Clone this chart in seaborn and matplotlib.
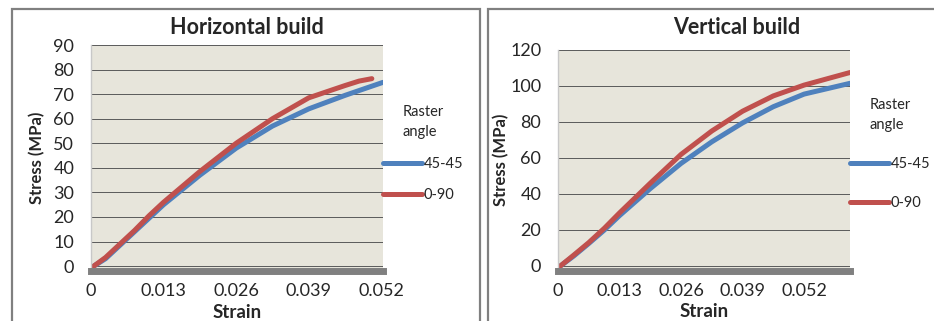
import pandas as pd
import matplotlib.pyplot as plt
import matplotlib.patches as mpatches
import seaborn as sns

# Horizontal build
h_strain_4545 = [0.0005, 0.0026, 0.0052, 0.0078, 0.0104, 0.013, 0.0195, 0.026, 0.0325, 0.039, 0.0455, 0.0523]
h_stress_4545 = [0, 3, 8.5, 14, 19.5, 25, 37, 48, 57, 64, 69.5, 74.8]
h_strain_090 = [0.0005, 0.0026, 0.0052, 0.0078, 0.0104, 0.013, 0.0195, 0.026, 0.0325, 0.039, 0.0455, 0.048, 0.0503]
h_stress_090 = [0, 3.5, 9, 14.5, 20.5, 26, 38.5, 50, 60, 68.5, 73.5, 75.3, 76.3]

# Vertical build
v_strain_4545 = [0.0005, 0.0033, 0.0065, 0.0098, 0.013, 0.0195, 0.026, 0.0325, 0.039, 0.0455, 0.052, 0.0617]
v_stress_4545 = [0, 5.5, 12.5, 20, 28, 43, 57, 69, 79.5, 88.5, 95.5, 101.5]
v_strain_090 = [0.0005, 0.0033, 0.0065, 0.0098, 0.013, 0.0195, 0.026, 0.0325, 0.039, 0.0455, 0.052, 0.0617]
v_stress_090 = [0, 6, 13, 21, 29.5, 46, 62, 75, 86, 94.5, 100.5, 107.5]

x_ticks = [0, 0.013, 0.026, 0.039, 0.052]
x_tick_labels = ["0", "0.013", "0.026", "0.039", "0.052"]

series_names = ["45-45", "0-90"]
colors = {"45-45": "#4F81BD", "0-90": "#C0504D"}


def make_df(s1, y1, s2, y2):
    a = pd.DataFrame({"Strain": s1, "Stress": y1, "Raster angle": "45-45"})
    b = pd.DataFrame({"Strain": s2, "Stress": y2, "Raster angle": "0-90"})
    return pd.concat([a, b], ignore_index=True)


df_h = make_df(h_strain_4545, h_stress_4545, h_strain_090, h_stress_090)
df_v = make_df(v_strain_4545, v_stress_4545, v_strain_090, v_stress_090)

sns.set_style("white")
plt.rcParams['font.family'] = ['Lato', 'DejaVu Sans']

fig = plt.figure(figsize=(9.34, 3.21), dpi=100)
W, H = 934, 321

# panel frames
for x0, x1 in [(12, 480), (488, 940)]:
    rect = mpatches.Rectangle((x0 / W, 0 - 0.05), (x1 - x0) / W, 1 - 8.5 / H + 0.05,
                              transform=fig.transFigure, fill=False,
                              edgecolor="#808080", linewidth=1.6, clip_on=False)
    fig.add_artist(rect)

ax1 = fig.add_axes([91 / W, 1 - 271 / H, 292 / W, 226 / H])
ax2 = fig.add_axes([558 / W, 1 - 270.5 / H, 292 / W, 220.5 / H])

configs = [
    (ax1, df_h, "Horizontal build", (-2, 90), list(range(0, 91, 10)), 0.0523, 247, (1.0, 0.52), 1.2, 6),
    (ax2, df_v, "Vertical build", (-2.5, 120), list(range(0, 121, 20)), 0.0617, 737, (1.0, 0.53), 1.7, 1),
]

for ax, df, title, ylim, yticks, xmax, title_x, anchor, lspace, ypad in configs:
    ax.set_facecolor("#E7E5DB")
    sns.lineplot(data=df, x="Strain", y="Stress", hue="Raster angle",
                 hue_order=series_names, palette=colors, estimator=None,
                 sort=False, linewidth=3.6, ax=ax, legend=False)
    ax.set_xlim(0, xmax)
    ax.set_ylim(*ylim)
    ax.set_yticks(yticks)
    ax.set_xticks(x_ticks)
    ax.set_xticklabels(x_tick_labels)
    ax.yaxis.grid(True, color="#5A5A5A", linewidth=0.7)
    ax.set_axisbelow(True)
    ax.tick_params(axis="y", length=7, color="#7F7F7F", labelsize=13, pad=5)
    ax.tick_params(axis="x", length=0, labelsize=13, pad=9)
    for s in ["top", "right"]:
        ax.spines[s].set_visible(False)
    ax.spines["left"].set_color("#C8C8C8")
    ax.spines["left"].set_linewidth(1)
    ax.spines["bottom"].set_color("#808080")
    ax.spines["bottom"].set_linewidth(5)
    ax.set_xlabel("Strain", fontsize=13.5, fontweight="bold", labelpad=3)
    ax.set_ylabel("Stress (MPa)", fontsize=12, fontweight="bold", labelpad=ypad)
    fig.text(title_x / W, 1 - 27 / H, title, fontsize=15.5, fontweight="bold",
             ha="center", va="center")

    handles = [plt.Line2D([], [], color=colors[n], linewidth=3.6) for n in series_names]
    leg = ax.legend(handles, series_names, title="Raster\nangle", loc="center left",
                    bbox_to_anchor=anchor, frameon=False, fontsize=10.5,
                    title_fontsize=10.5, handlelength=2.7, handletextpad=0.1,
                    labelspacing=lspace, borderaxespad=0, borderpad=0)
    leg.get_title().set_linespacing(1.6)
    leg._legend_box.align = "center"

fig.savefig("out.png", dpi=100)
